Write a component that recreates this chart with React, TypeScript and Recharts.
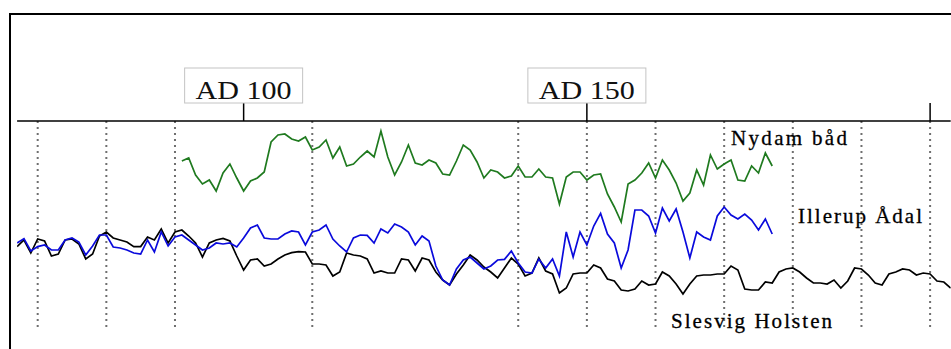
import React from 'react';
import { LineChart, Line, XAxis, YAxis, ReferenceLine } from 'recharts';

// Tree-ring index curves, one value per calendar year (AD).
const FIRST_YEAR = 67;
const LAST_YEAR = 203;
const ILLERUP_START = 67;
const NYDAM_START = 91;

// Slesvig Holsten master chronology, AD 67-203
const slesvigHolsten = [
  51.2, 54.5, 48, 55, 54, 46.5, 47.5, 54.5, 55, 52.5,
  45, 47.5, 56.5, 58.5, 55.5, 54.5, 53.5, 51.2, 51.2, 56,
  54.5, 60, 53, 58.5, 59.5, 56.5, 53, 46, 53, 54.5,
  55.3, 54, 46.5, 39.5, 44.5, 45, 41.5, 42.5, 45, 47,
  48.2, 48.7, 48.5, 42.5, 42.5, 42, 36.5, 38.5, 48, 47,
  46.5, 45, 38, 39, 38, 38, 45, 44.5, 39, 45.5,
  44.5, 38.5, 34.5, 32, 37.5, 42, 47, 44.5, 41, 38.5,
  35.5, 40.5, 45.5, 42.5, 36.5, 38, 45.5, 39, 37.5, 28,
  30.5, 37.5, 38, 38, 42, 40.5, 35, 34, 29.5, 29,
  30, 34, 32, 32.5, 38.5, 36.5, 32.5, 27.5, 32.5, 36.5,
  37, 37, 37.5, 37.5, 41.5, 39.5, 30, 29.5, 29.5, 33.5,
  33, 38.5, 40, 40.5, 38.5, 35.5, 33, 33, 32.5, 34.5,
  30.5, 34, 40.5, 40, 37, 33, 32, 37.5, 38.5, 40,
  39.5, 37, 38, 37.5, 34, 33.5, 30.5,
];

// Illerup Ådal, AD 67-177
const illerupAadal = [
  53, 55.2, 49, 51.2, 52, 49.5, 49.5, 54.5, 55.5, 53.5,
  47, 51.5, 57, 57, 51, 50.5, 49.5, 48, 47.5, 54.5,
  48.5, 58.5, 51.5, 56, 57, 54.5, 52, 49.5, 50.5, 53,
  52.5, 53, 51, 55.5, 60.5, 62, 55.5, 55, 55, 57.5,
  59, 58.5, 52, 58.5, 59.5, 62, 55, 51.5, 48.5, 55.5,
  57, 56.8, 53, 60, 58, 62.5, 61, 58.5, 52, 56.5,
  54, 41.5, 34.5, 32, 40, 44.5, 46, 43, 40, 41.5,
  44.5, 44.8, 49, 43, 38.5, 38, 45, 40.5, 45, 36.5,
  58.5, 46, 58.5, 52, 61.5, 67.8, 57.5, 53, 40.5, 49.5,
  69.5, 69.5, 66.5, 58, 70.5, 64, 70, 58.5, 45.5, 58.5,
  56, 54.5, 66.5, 71, 67, 65, 67.5, 64.5, 59.5, 65,
  57.5,
];

// Nydam båd, AD 91-177
const nydamBaad = [
  94, 95.5, 87, 82.5, 84.5, 79, 88, 92.5, 85.5, 79,
  84, 85.5, 88.5, 103.5, 107, 107.5, 105, 104, 106, 99.5,
  101, 104.5, 95.5, 101, 91.5, 92.5, 96, 99, 96, 109,
  96, 87, 93.5, 102, 93, 92, 94.5, 93, 87.5, 87,
  94, 102, 99.5, 93.5, 85.5, 89.5, 88.5, 85.5, 86.5, 91.5,
  86, 86, 90, 86, 85.5, 72.5, 86, 88.5, 88.5, 84.5,
  87, 87.5, 77.5, 71, 63.5, 82.5, 84.5, 88, 93, 85.5,
  94.5, 89.5, 83, 74, 78, 89.5, 82, 97, 90, 92.5,
  94.5, 84.5, 84, 91.5, 88, 98, 91.5,
];

const majorTicks = [100, 150, 200];
const labeledYears = [100, 150];
const gridYears = [70, 80, 90, 110, 140, 150, 160, 170, 180, 190, 200];

type Row = { year: number; slesvig?: number; illerup?: number; nydam?: number };

const rows: Row[] = [];
for (let yr = FIRST_YEAR; yr <= LAST_YEAR; yr++) {
  const row: Row = { year: yr, slesvig: slesvigHolsten[yr - FIRST_YEAR] };
  const i = yr - ILLERUP_START;
  if (i >= 0 && i < illerupAadal.length) row.illerup = illerupAadal[i];
  const n = yr - NYDAM_START;
  if (n >= 0 && n < nydamBaad.length) row.nydam = nydamBaad[n];
  rows.push(row);
}

const SERIF = "'Liberation Serif', 'DejaVu Serif', 'Times New Roman', serif";

const YearTick = (props: any) => {
  const { x, y, payload } = props;
  if (!labeledYears.includes(payload.value)) return <g />;
  return (
    <g>
      <rect x={x - 59} y={y - 35} width={118} height={35} fill="#fff" stroke="#c4c4c4" strokeWidth={1} />
      <text
        x={x}
        y={y - 4}
        textAnchor="middle"
        fontFamily={SERIF}
        fontSize={25}
        fill="#111"
        textLength={96}
        lengthAdjust="spacingAndGlyphs"
      >
        {`AD ${payload.value}`}
      </text>
    </g>
  );
};

const seriesLabels = [
  { text: 'Nydam båd', x: 731, y: 145, w: 116 },
  { text: 'Illerup Ådal', x: 798, y: 223, w: 124 },
  { text: 'Slesvig Holsten', x: 671, y: 328, w: 161 },
];

export default function App() {
  return (
    <div
      style={{
        position: 'absolute',
        left: 0,
        top: 0,
        width: 951,
        height: 349,
        overflow: 'hidden',
        background: '#fff',
      }}
    >
      <div
        style={{
          position: 'absolute',
          left: 9,
          top: 13,
          width: 1000,
          height: 400,
          border: '2px solid #000',
        }}
      />
      <div style={{ position: 'absolute', left: 0, top: 0 }}>
        <LineChart
          width={951}
          height={349}
          data={rows}
          margin={{ top: 71, right: 0.3, bottom: 0, left: 17.1 }}
        >
          <XAxis
            dataKey="year"
            type="number"
            orientation="top"
            domain={[FIRST_YEAR, LAST_YEAR]}
            ticks={majorTicks}
            interval={0}
            height={50}
            tickSize={18}
            tickMargin={0}
            axisLine={{ stroke: '#000', strokeWidth: 1.5 }}
            tickLine={{ stroke: '#000', strokeWidth: 1.5 }}
            tick={<YearTick />}
            allowDataOverflow
          />
          <YAxis hide domain={[0, 114]} />
          {gridYears.map((g) => (
            <ReferenceLine
              key={g}
              segment={[
                { x: g, y: 114 },
                { x: g, y: 9 },
              ]}
              stroke="#6f6f6f"
              strokeWidth={2}
              strokeDasharray="2 4"
            />
          ))}
          <Line
            dataKey="slesvig"
            stroke="#000"
            strokeWidth={1.7}
            dot={false}
            isAnimationActive={false}
            type="linear"
          />
          <Line
            dataKey="illerup"
            stroke="#0a0adc"
            strokeWidth={1.7}
            dot={false}
            isAnimationActive={false}
            type="linear"
          />
          <Line
            dataKey="nydam"
            stroke="#1f7a1f"
            strokeWidth={1.7}
            dot={false}
            isAnimationActive={false}
            type="linear"
          />
        </LineChart>
      </div>
      <svg
        width={951}
        height={349}
        style={{ position: 'absolute', left: 0, top: 0, pointerEvents: 'none' }}
      >
        {seriesLabels.map((l) => (
          <text
            key={l.text}
            x={l.x}
            y={l.y}
            fontFamily={SERIF}
            fontSize={21}
            fill="#000"
            stroke="#000"
            strokeWidth={0.3}
            textLength={l.w}
            lengthAdjust="spacing"
          >
            {l.text}
          </text>
        ))}
      </svg>
    </div>
  );
}
